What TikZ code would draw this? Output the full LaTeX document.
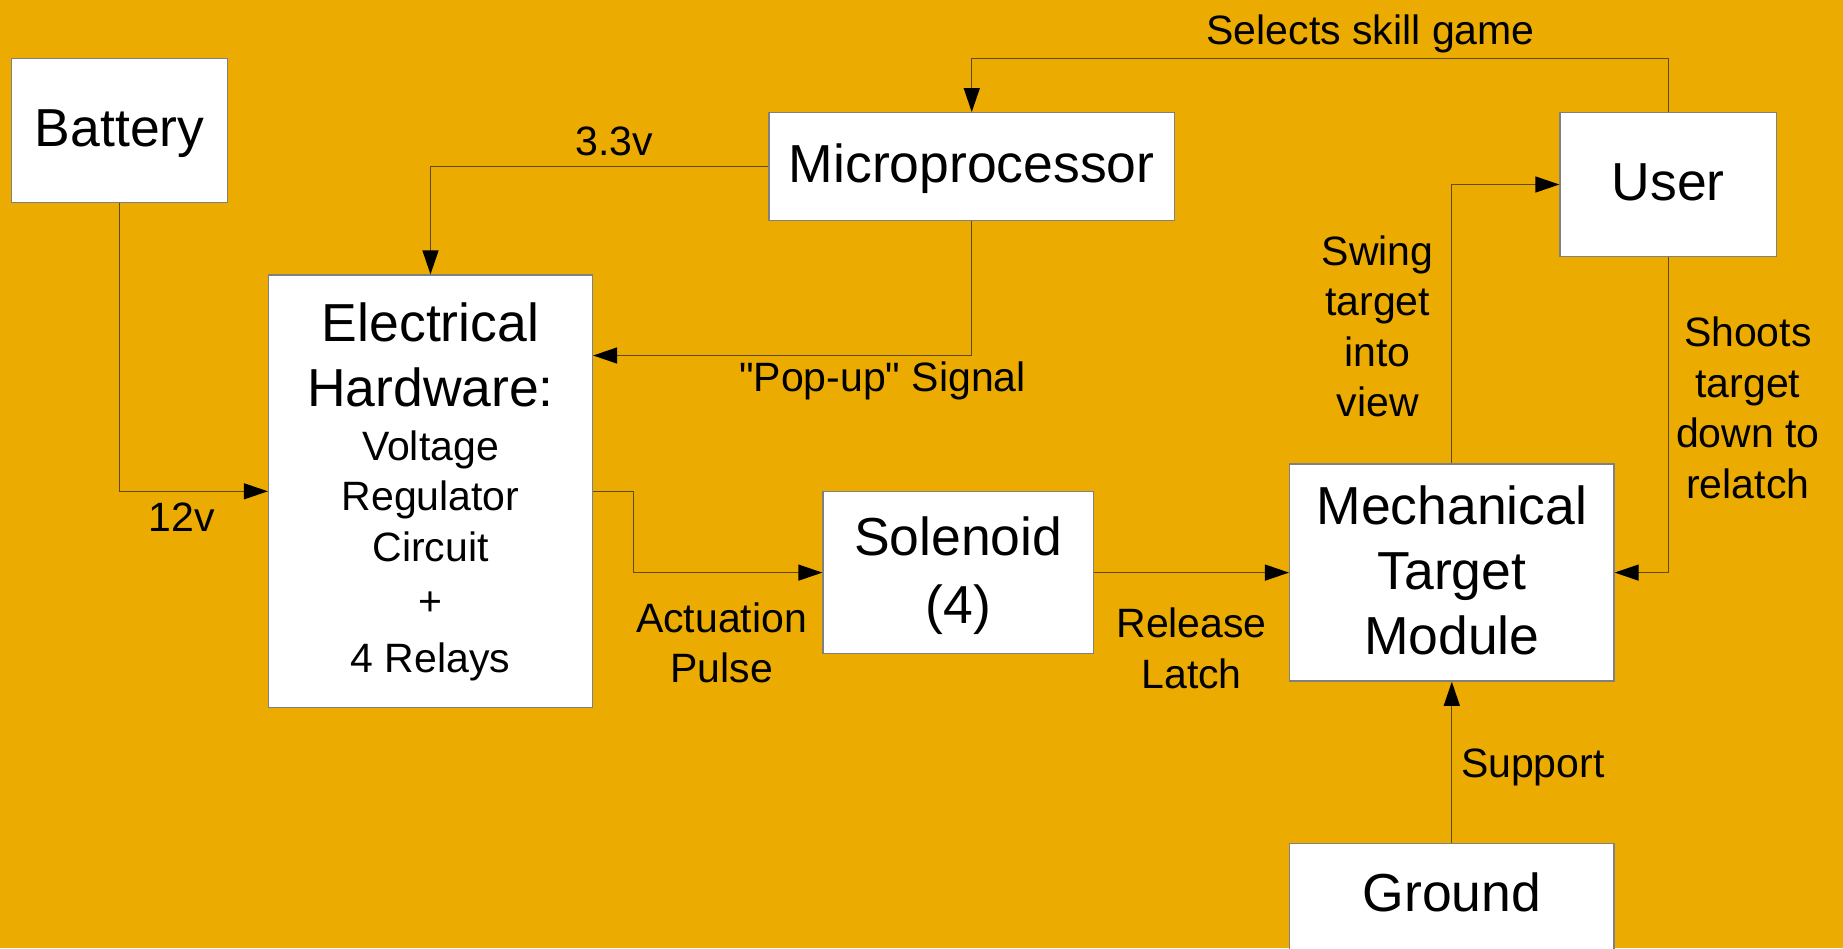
\documentclass[tikz,border=0pt]{standalone}
\usepackage{fontspec}
\setmainfont{Liberation Sans}[Ligatures=TeXOff]
\usetikzlibrary{arrows.meta}

\definecolor{bg}{RGB}{235,171,0}
\definecolor{wire}{RGB}{95,75,20}
\definecolor{edge}{RGB}{128,128,128}

% type sizes for block titles and wire labels
\newcommand{\blockfont}{\fontsize{53.5}{65}\selectfont}
\newcommand{\wirefont}{\fontsize{41}{50.5}\selectfont}
% centred stack of lines whose baseline is that of the first line
\newcommand{\lineset}[1]{\begin{tabular}[t]{@{}c@{}}#1\end{tabular}}

\tikzset{
  block/.style={draw=edge, line width=1.3pt, fill=white, inner sep=0pt, rectangle},
  conn/.style={draw=wire, line width=1.3pt, -{Triangle[width=16pt,length=24pt,black]}},
  blocktext/.style={font=\blockfont, anchor=base, inner sep=0pt},
  wiretext/.style={font=\wirefont, anchor=base, inner sep=0pt},
}

\begin{document}
\begin{tikzpicture}[x=1pt, y=-1pt]
  \useasboundingbox (0,0) rectangle (1843,948);
  \fill[bg] (0,0) rectangle (1843,948);
  \clip (0,0) rectangle (1843,948);

  % blocks
  \node[block, minimum width=216pt,   minimum height=144pt]   (battery) at (119.7,130.3) {};
  \node[block, minimum width=405.5pt, minimum height=108pt]   (micro)   at (971.75,166.7) {};
  \node[block, minimum width=216.5pt, minimum height=143.5pt] (user)    at (1668.25,184.5) {};
  \node[block, minimum width=324pt,   minimum height=432.6pt] (elec)    at (430.5,491.3) {};
  \node[block, minimum width=270.5pt, minimum height=162pt]   (sol)     at (958.25,572.6) {};
  \node[block, minimum width=324.4pt, minimum height=217pt]   (mtm)     at (1451.8,572.6) {};
  \node[block, minimum width=324.4pt, minimum height=120pt]   (ground)  at (1451.8,903.5) {};

  % block titles
  \node[blocktext] (tBattery) at (119.7,146.7)   {Battery};
  \node[blocktext] (tMicro)   at (971.75,182.7)  {Microprocessor};
  \node[blocktext] (tUser)    at (1668.25,200)   {User};
  \node[blocktext] (tElec)    at (430.5,341.7)   {\lineset{Electrical\\Hardware:}};
  \node[wiretext]  (tElecSub) at (430.5,460.1)   {\lineset{Voltage\\Regulator\\Circuit\\[4pt]+\\[6pt]4 Relays}};
  \node[blocktext] (tSol)     at (958.25,555.5)  {\lineset{Solenoid\\[3pt](4)}};
  \node[blocktext] (tMtm)     at (1451.8,524)    {\lineset{Mechanical\\Target\\Module}};
  \node[blocktext] (tGround)  at (1451.8,911.5)  {Ground};

  % bend points of the routed wires
  \coordinate (selTop)  at (0,58.3);
  \coordinate (popY)    at (0,355.5);
  \coordinate (actBend) at (633.8,0);

  % wires
  \draw[conn] (battery.south) |- (elec.west);
  \draw[conn] (micro.west) -| (elec.north);
  \draw[conn] (micro.south) |- (elec.east |- popY);
  \draw[conn] (elec.east) -| (actBend |- sol.west) -- (sol.west);
  \draw[conn] (sol.east) -- (mtm.west);
  \draw[conn] (user.north) |- (micro.north |- selTop) -- (micro.north);
  \draw[conn] (mtm.north) |- (user.west);
  \draw[conn] (user.south) |- (mtm.east);
  \draw[conn] (ground.north) -- (mtm.south);

  % wire labels
  \node[wiretext] (l12v)     at (182,531)       {12v};
  \node[wiretext] (l33v)     at (614,155)       {3.3v};
  \node[wiretext] (lPop)     at (882.5,391.7)   {"Pop-up" Signal};
  \node[wiretext] (lSelect)  at (1370.6,44.7)   {Selects skill game};
  \node[wiretext] (lAct)     at (721.6,632.4)   {\lineset{Actuation\\Pulse}};
  \node[wiretext] (lRelease) at (1191.6,637.7)  {\lineset{Release\\Latch}};
  \node[wiretext] (lSupport) at (1532.8,777.5)  {Support};
  \node[wiretext] (lSwing)   at (1377.6,265)    {\lineset{Swing\\target\\into\\view}};
  \node[wiretext] (lShoot)   at (1747.8,346.7)  {\lineset{Shoots\\target\\down to\\relatch}};
\end{tikzpicture}
\end{document}
